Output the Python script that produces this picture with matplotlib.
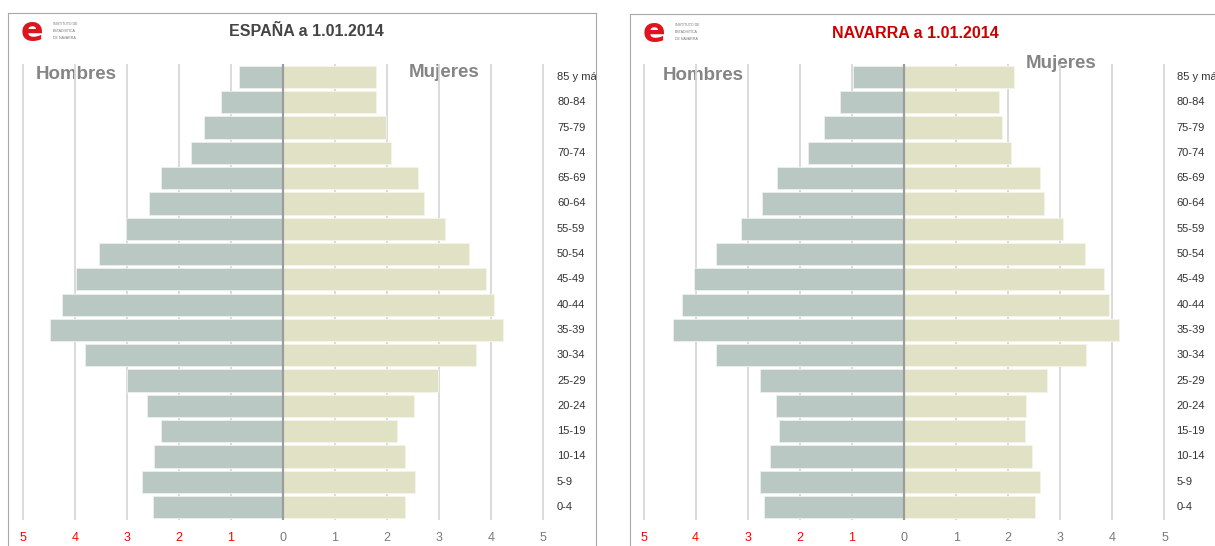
import matplotlib.pyplot as plt
from matplotlib import transforms

plt.rcParams['font.family'] = ['Liberation Sans', 'DejaVu Sans']

edades = ["85 y más", "80-84", "75-79", "70-74", "65-69", "60-64", "55-59", "50-54", "45-49",
          "40-44", "35-39", "30-34", "25-29", "20-24", "15-19", "10-14", "5-9", "0-4"]

# porcentaje de poblacion, de 85 y mas a 0-4
esp_hombres = [0.85, 1.19, 1.52, 1.77, 2.35, 2.58, 3.01, 3.54, 3.97,
               4.24, 4.47, 3.80, 2.99, 2.61, 2.35, 2.47, 2.70, 2.50]
esp_mujeres = [1.78, 1.78, 1.98, 2.08, 2.59, 2.71, 3.12, 3.58, 3.90,
               4.05, 4.22, 3.70, 2.98, 2.51, 2.19, 2.34, 2.54, 2.34]
nav_hombres = [0.98, 1.23, 1.53, 1.84, 2.43, 2.72, 3.13, 3.61, 4.03,
               4.26, 4.43, 3.61, 2.77, 2.45, 2.39, 2.57, 2.77, 2.69]
nav_mujeres = [2.11, 1.82, 1.88, 2.05, 2.61, 2.69, 3.06, 3.47, 3.83,
               3.94, 4.12, 3.50, 2.75, 2.34, 2.32, 2.46, 2.61, 2.51]

ticks = [-5, -4, -3, -2, -1, 0, 1, 2, 3, 4, 5]

W, H = 1215, 546
fig = plt.figure(figsize=(12.15, 5.46), dpi=100)


def caja(x0, y0, x1, y1):
    return [x0 / W, 1 - y1 / H, (x1 - x0) / W, (y1 - y0) / H]


def panel(marco, zona, titulo, color_titulo, x_titulo, hombres, mujeres, pos_h, pos_m, x_etiq):
    frame = fig.add_axes(caja(*marco))
    frame.set_xticks([])
    frame.set_yticks([])
    for s in frame.spines.values():
        s.set_color('#a8a8a8')
    frame.set_xlim(0, marco[2] - marco[0])
    frame.set_ylim(marco[3] - marco[1], 0)

    # logo
    frame.text(24, 19, 'e', color='#e0141e', fontsize=24, fontweight='bold',
               ha='center', va='center', family='DejaVu Sans')
    for i, t in enumerate(['INSTITUTO DE', 'ESTADÍSTICA', 'DE NAVARRA']):
        frame.text(45, 11 + i * 7, t, color='#777777', fontsize=2.6, va='center')

    frame.text(x_titulo, 19, titulo, color=color_titulo, fontsize=11.5, fontweight='bold',
               ha='center', va='center')
    frame.text(pos_h[0], pos_h[1], 'Hombres', color='#858585', fontsize=13.5,
               fontweight='bold', ha='center', va='center')
    frame.text(pos_m[0], pos_m[1], 'Mujeres', color='#858585', fontsize=13.5,
               fontweight='bold', ha='center', va='center')

    ax = fig.add_axes(caja(*zona))
    y = list(range(len(edades)))
    ax.barh(y, [-v for v in hombres], height=0.88, color='#b9c8c3',
            edgecolor='#eef0ea', linewidth=0.6, zorder=2)
    ax.barh(y, mujeres, height=0.88, color='#e1e2c5',
            edgecolor='#f4f4ea', linewidth=0.6, zorder=2)
    ax.axvline(0, color='#9c9c9c', lw=1.6, zorder=3)
    ax.set_xlim(-5.05, 5.05)
    ax.set_ylim(len(edades) - 0.5, -0.5)
    ax.set_xticks(ticks)
    ax.set_xticklabels([str(abs(t)) for t in ticks])
    for t, lab in zip(ticks, ax.get_xticklabels()):
        lab.set_color('#ff0000' if t < 0 else '#7a7a7a')
    ax.grid(axis='x', color='#d8d8d8', lw=1.3, zorder=0)
    ax.set_axisbelow(True)
    ax.set_yticks([])
    ax.tick_params(length=0, pad=9, labelsize=9)
    for s in ax.spines.values():
        s.set_visible(False)
    ax.patch.set_alpha(0)

    tr = transforms.blended_transform_factory(frame.transData, ax.transData)
    for yi, e in zip(y, edades):
        frame.text(x_etiq, yi, e, transform=tr, fontsize=8, color='#333333',
                   va='center', ha='left', clip_on=True)


panel((8, 12.6, 596, 620), (20.1, 64.4, 545.9, 519.6), 'ESPAÑA a 1.01.2014', '#444444', 298,
      esp_hombres, esp_mujeres, (68, 62), (436, 60), 549)
panel((629.5, 14, 1217, 620), (640.9, 64.4, 1167.1, 519.6), 'NAVARRA a 1.01.2014', '#cc0000', 286,
      nav_hombres, nav_mujeres, (74, 61), (432, 49), 547)

fig.savefig('out.png', dpi=100)
